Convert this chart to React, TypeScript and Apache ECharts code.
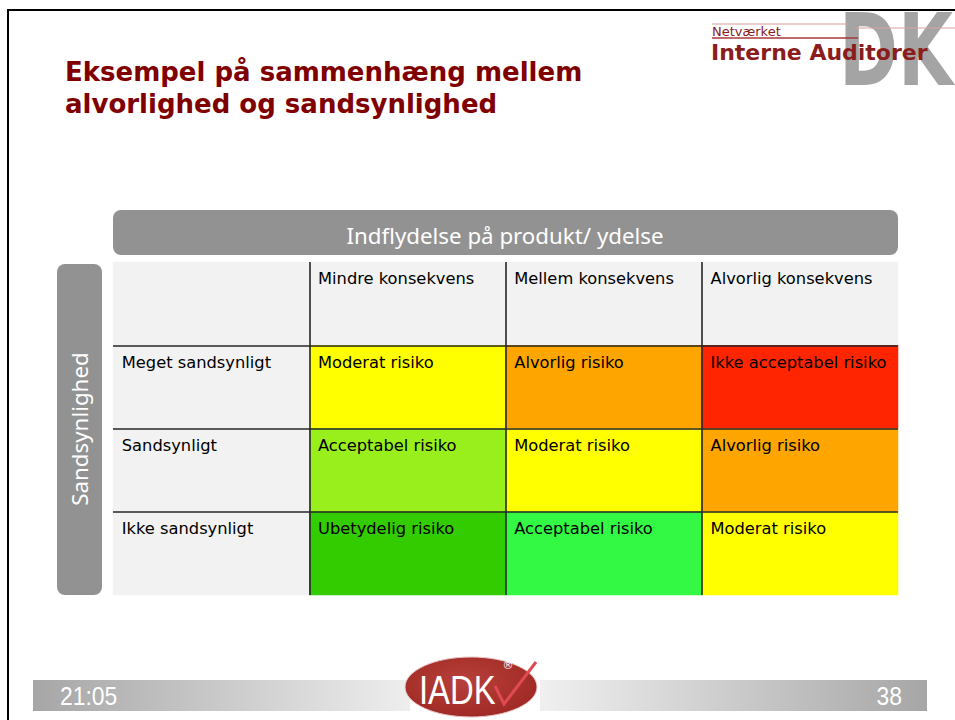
import React, { useEffect, useRef } from 'react';
import * as echarts from 'echarts';

const consequences = ['Mindre konsekvens', 'Mellem konsekvens', 'Alvorlig konsekvens'];
const likelihoods = ['Meget sandsynligt', 'Sandsynligt', 'Ikke sandsynligt'];
const riskLabels = [
  ['Moderat risiko', 'Alvorlig risiko', 'Ikke acceptabel risiko'],
  ['Acceptabel risiko', 'Moderat risiko', 'Alvorlig risiko'],
  ['Ubetydelig risiko', 'Acceptabel risiko', 'Moderat risiko'],
];
const riskColors = [
  ['#ffff00', '#ffa500', '#ff2500'],
  ['#99ef1c', '#ffff00', '#ffa500'],
  ['#33cc00', '#33f844', '#ffff00'],
];
const headerColor = '#f2f2f2';
const titleLines = ['Eksempel på sammenhæng mellem', 'alvorlighed og sandsynlighed'];
const xTitle = 'Indflydelse på produkt/ ydelse';
const yTitle = 'Sandsynlighed';
const footerTime = '21:05';
const footerPage = '38';

const xCats = ['', ...consequences];
const yCats = ['', ...likelihoods];

function buildPalette() {
  const pal: string[] = [headerColor];
  riskColors.forEach((row) => row.forEach((c) => { if (pal.indexOf(c) < 0) pal.push(c); }));
  return pal;
}

function buildCells(pal: string[]) {
  const out: any[] = [];
  for (let r = 0; r < yCats.length; r++) {
    for (let c = 0; c < xCats.length; c++) {
      let text = '';
      let color = headerColor;
      if (r === 0 && c > 0) text = consequences[c - 1];
      else if (c === 0 && r > 0) text = likelihoods[r - 1];
      else if (r > 0 && c > 0) {
        text = riskLabels[r - 1][c - 1];
        color = riskColors[r - 1][c - 1];
      }
      out.push({ value: [c, r, pal.indexOf(color)], text });
    }
  }
  return out;
}

export default function App() {
  const ref = useRef<HTMLDivElement>(null);
  useEffect(() => {
    if (!ref.current) return;
    const chart = echarts.init(ref.current, null, { renderer: 'svg' });
    const pal = buildPalette();
    const cells = buildCells(pal);
    const darkRed = '#8a1c1c';
    const option: any = {
      animation: false,
      backgroundColor: '#ffffff',
      grid: { left: 113, top: 262, width: 785, height: 333, containLabel: false },
      visualMap: {
        type: 'piecewise',
        show: false,
        dimension: 2,
        seriesIndex: 0,
        pieces: pal.map((c, i) => ({ value: i, color: c })),
      },
      xAxis: {
        type: 'category',
        data: xCats,
        position: 'top',
        z: 10,
        axisLine: { show: false },
        axisTick: { show: false },
        axisLabel: { show: false },
        splitLine: { show: true, showMinLine: false, showMaxLine: false, lineStyle: { color: '#262626', width: 1.6 } },
      },
      yAxis: {
        type: 'category',
        data: yCats,
        inverse: true,
        z: 10,
        axisLine: { show: false },
        axisTick: { show: false },
        axisLabel: { show: false },
        splitLine: { show: true, showMinLine: false, showMaxLine: false, lineStyle: { color: '#262626', width: 1.6 } },
      },
      series: [
        {
          type: 'heatmap',
          data: cells,
          emphasis: { disabled: true },
          label: {
            show: true,
            position: 'insideTopLeft',
            distance: 9,
            color: '#000',
            fontFamily: '"DejaVu Sans"',
            fontSize: 16.3,
            formatter: (p: any) => cells[p.dataIndex].text,
          },
        },
      ],
      graphic: [
        // slide frame
        { type: 'line', shape: { x1: 7, y1: 10, x2: 955, y2: 10 }, style: { stroke: '#000', lineWidth: 2 } },
        { type: 'line', shape: { x1: 8, y1: 9, x2: 8, y2: 720 }, style: { stroke: '#000', lineWidth: 2 } },
        // title
        { type: 'text', x: 65, y: 72, style: { text: titleLines[0], fill: '#800000', font: 'bold 26px "DejaVu Sans"', textVerticalAlign: 'middle' } },
        { type: 'text', x: 65, y: 104, style: { text: titleLines[1], fill: '#800000', font: 'bold 26px "DejaVu Sans"', textVerticalAlign: 'middle' } },
        // logo DK
        {
          type: 'text', x: 839, y: 50, scaleY: 1.4,
          style: { text: 'DK', font: 'bold 71px "DejaVu Sans"', textVerticalAlign: 'middle', fill: 'rgba(125,125,125,0.7)' },
        },
        { type: 'line', shape: { x1: 712, y1: 24, x2: 848, y2: 24 }, style: { stroke: '#d49a9a', lineWidth: 1 } },
        { type: 'line', shape: { x1: 712, y1: 38, x2: 858, y2: 38 }, style: { stroke: '#a83838', lineWidth: 1.5 } },
        { type: 'line', shape: { x1: 855, y1: 28, x2: 955, y2: 28 }, style: { stroke: '#dba0a0', lineWidth: 1 } },
        { type: 'text', x: 712, y: 31, style: { text: 'Netværket', fill: darkRed, font: '13px "DejaVu Sans"', textVerticalAlign: 'middle' } },
        { type: 'text', x: 711, y: 52, style: { text: 'Interne Auditorer', fill: darkRed, font: 'bold 22px "DejaVu Sans"', textVerticalAlign: 'middle' } },
        // x banner
        { type: 'rect', shape: { x: 113, y: 210, width: 785, height: 45, r: 8 }, style: { fill: '#929292' } },
        { type: 'text', x: 505, y: 235, style: { text: xTitle, fill: '#ffffff', font: '22.3px "Noto Sans"', textAlign: 'center', textVerticalAlign: 'middle' } },
        // y banner
        { type: 'rect', shape: { x: 57, y: 264, width: 45, height: 331, r: 8 }, style: { fill: '#929292' } },
        { type: 'text', x: 79, y: 429, rotation: Math.PI / 2, style: { text: yTitle, fill: '#ffffff', font: '22.3px "Noto Sans"', textAlign: 'center', textVerticalAlign: 'middle' } },
        // footer bars
        {
          type: 'rect', shape: { x: 33, y: 680, width: 377, height: 31 },
          style: { fill: { type: 'linear', x: 0, y: 0, x2: 1, y2: 0, colorStops: [{ offset: 0, color: '#a6a6a6' }, { offset: 1, color: '#eeeeee' }] } },
        },
        {
          type: 'rect', shape: { x: 540, y: 680, width: 387, height: 31 },
          style: { fill: { type: 'linear', x: 0, y: 0, x2: 1, y2: 0, colorStops: [{ offset: 0, color: '#f0f0f0' }, { offset: 1, color: '#a6a6a6' }] } },
        },
        { type: 'text', x: 60, y: 696, scaleX: 0.88, style: { text: footerTime, fill: '#ffffff', font: '26px "Liberation Sans"', textVerticalAlign: 'middle' } },
        { type: 'text', x: 902, y: 696, scaleX: 0.88, style: { text: footerPage, fill: '#ffffff', font: '26px "Liberation Sans"', textAlign: 'right', textVerticalAlign: 'middle' } },
        // IADK logo
        {
          type: 'ellipse', shape: { cx: 471, cy: 687, rx: 66, ry: 30 },
          style: { fill: { type: 'radial', x: 0.45, y: 0.4, r: 0.7, colorStops: [{ offset: 0, color: '#b8403a' }, { offset: 1, color: '#9c2622' }] }, stroke: '#e8c8c8', lineWidth: 1 },
        },
        { type: 'text', x: 419, y: 690, scaleX: 0.82, style: { text: 'IADK', fill: '#ffffff', font: '40px "Liberation Sans"', textVerticalAlign: 'middle' } },
        { type: 'polyline', shape: { points: [[495, 686], [504, 704], [536, 662]] }, style: { stroke: '#e04a52', lineWidth: 3, fill: null } },
        { type: 'text', x: 508, y: 665, style: { text: '®', fill: '#ffffff', font: '11px "DejaVu Sans"', textAlign: 'center', textVerticalAlign: 'middle' } },
      ],
    };
    chart.setOption(option);
    return () => chart.dispose();
  }, []);
  return <div ref={ref} style={{ position: 'fixed', left: 0, top: 0, width: 955, height: 720 }} />;
}
